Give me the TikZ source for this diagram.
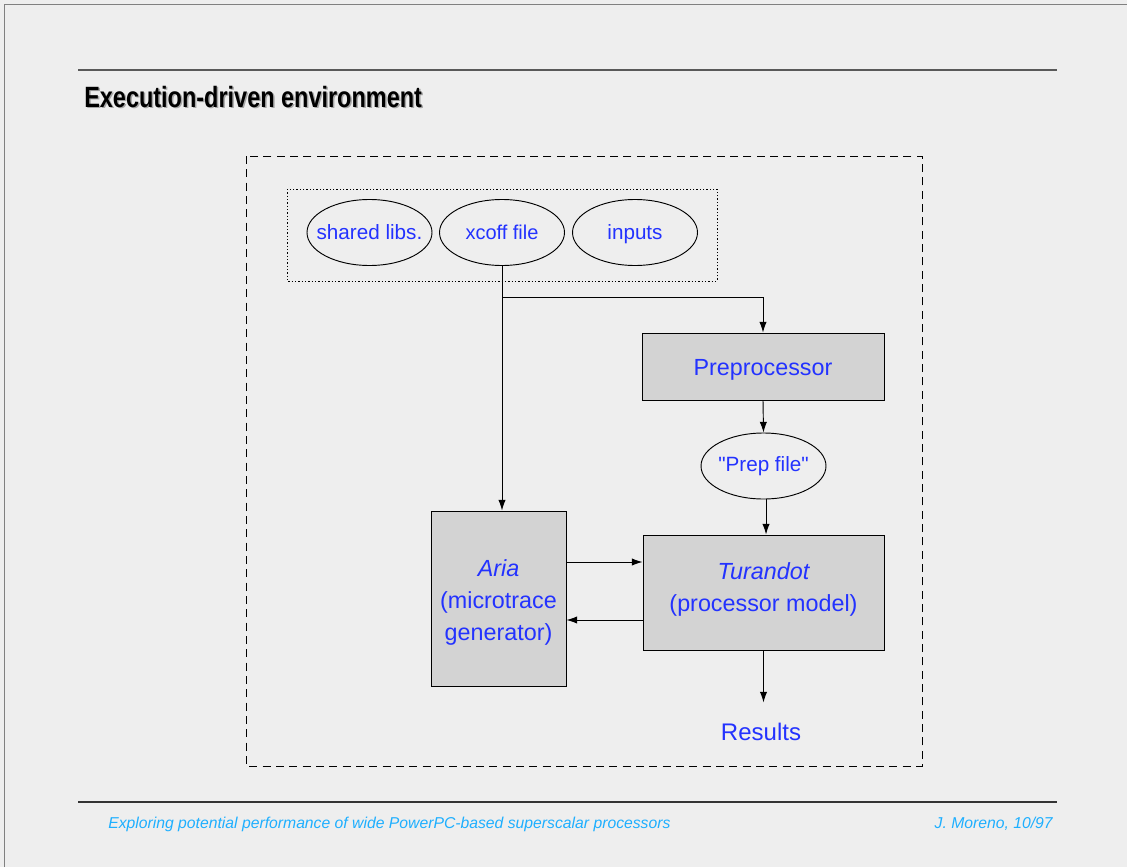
\documentclass[tikz,border=0pt]{standalone}
\usepackage{fontspec}
\setmainfont{Liberation Sans}
\newfontfamily\titlefont[FakeStretch=0.8]{Liberation Sans}
\newcommand{\sq}{\XeTeXglyph\XeTeXcharglyph"22\relax}
\newcommand{\shiftv}[2]{\raisebox{#1}[\height][\depth]{#2}}
\usetikzlibrary{arrows.meta,shapes.geometric}
\definecolor{bgc}{HTML}{EEEEEE}
\definecolor{boxc}{HTML}{D3D3D3}
\definecolor{txtb}{RGB}{35,50,255}
\definecolor{footc}{RGB}{30,175,255}
\tikzset{
  ell/.style={ellipse, draw, line width=0.7pt, minimum width=93.75pt, minimum height=49.5pt, inner sep=0pt, text=txtb, font=\fontsize{15.5}{18}\selectfont},
  blk/.style={draw, line width=0.7pt, fill=boxc, inner sep=0pt, text=txtb, align=center, font=\fontsize{17.5}{24}\selectfont},
  arr/.style={line width=0.7pt, -{Latex[length=8pt,width=5.5pt]}},
  ln/.style={line width=0.7pt}
}
\begin{document}
\begin{tikzpicture}[x=0.75pt,y=-0.75pt]
\fill[bgc] (0,0) rectangle (1127,867);
\useasboundingbox (0,0) rectangle (1127,867);
\draw[gray, line width=1.2pt] (4.5,867) -- (4.5,4.5) -- (1127,4.5);
% rules
\draw[line width=1.5pt, color=black!65] (78,70) -- (1057,70);
\draw[line width=1.1pt, color=black!80] (78,802) -- (1057,802);
% title
\node[anchor=base west, inner sep=0pt, text=black!35, font=\titlefont\bfseries\fontsize{22}{24}\selectfont] (tshadow) at (85.5,108.5) {Execution-driven environment};
\node[anchor=base west, inner sep=0pt, text=black, font=\titlefont\bfseries\fontsize{22}{24}\selectfont] (title) at (84,107) {Execution-driven environment};
% footer
\node[anchor=base west, inner sep=0pt, text=footc, font=\itshape\fontsize{11.8}{13}\selectfont] (foot1) at (108,828) {Exploring potential performance of wide PowerPC-based superscalar processors};
\node[anchor=base east, inner sep=0pt, text=footc, font=\itshape\fontsize{11.8}{13}\selectfont] (foot2) at (1053,828) {J. Moreno, 10/97};
% frames
\draw[line width=0.7pt, dash pattern=on 6pt off 4pt] (246,156) rectangle (922,766);
\draw[line width=0.7pt, dash pattern=on 1pt off 1.5pt] (287,189) rectangle (717,281);
% ellipses
\node[ell] (shl) at (369.5,232.5) {\makebox[0pt]{shared libs.}};
\node[ell] (xcoff) at (502,232.5) {\makebox[0pt]{\fontsize{15}{18}\selectfont xcoff file}};
\node[ell] (inp) at (635,232.5) {\makebox[0pt]{\shiftv{-1.5pt}{inputs}}};
\node[ell] (prep) at (763.5,466) {\makebox[0pt]{\sq Prep file\sq}};
% blocks
\node[blk, minimum width=181.5pt, minimum height=50.25pt] (pre) at (763,366.5) {\shiftv{-2.25pt}{Preprocessor}};
\node[blk, minimum width=180.75pt, minimum height=86.25pt] (tur) at (763.5,592.5) {\shiftv{2.5pt}{\begin{tabular}{@{}c@{}}\itshape Turandot\\(processor model)\end{tabular}}};
\node[blk, minimum width=101.25pt, minimum height=131.25pt] (aria) at (498.5,598.5) {\shiftv{-3pt}{\begin{tabular}{@{}c@{}}\itshape Aria\\(microtrace\\generator)\end{tabular}}};
\node[text=txtb, font=\fontsize{18}{22}\selectfont] (res) at (761,732) {Results};
% connectors
\draw[arr] (xcoff.south) -- (xcoff.south |- aria.north);
\draw[arr] (xcoff.south |- 0,297) -| (pre.north);
\draw[arr] (pre.south) -- (prep.north);
\draw[arr] ([xshift=1.9pt]prep.south) -- ([xshift=1.9pt]prep.south |- tur.north);
\draw[arr] (aria.east |- 0,562) -- (tur.west |- 0,562);
\draw[arr] (tur.west |- 0,620) -- (aria.east |- 0,620);
\draw[arr] (tur.south) -- ([yshift=12pt]tur.south |- res.north);
\end{tikzpicture}
\end{document}
